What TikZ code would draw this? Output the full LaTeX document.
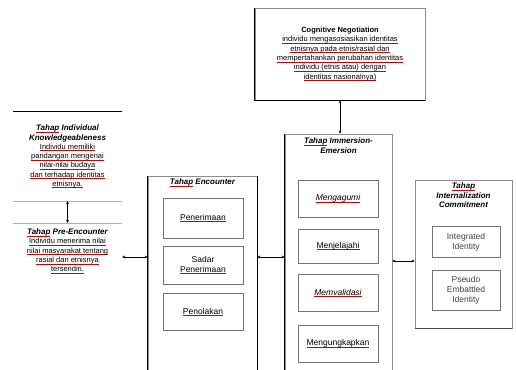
\documentclass[tikz,border=0pt]{standalone}
\usepackage{fontspec}
\setmainfont{Liberation Sans}
\usetikzlibrary{arrows.meta,positioning}
\newsavebox{\redbox}
\newcommand{\redline}[1]{\leavevmode\sbox{\redbox}{#1}\rlap{\color{red!80!black}\rule[-1.3pt]{\wd\redbox}{0.35pt}}\usebox{\redbox}}
\newcommand{\stagefont}{\bfseries\itshape\fontsize{8}{9.5}\selectfont}
\tikzset{
  stage/.style={draw=black!45, line width=0.6pt, inner sep=0pt},
  edge/.style={black, line width=1.1pt},
  sub/.style={draw=black!55, line width=0.6pt, minimum width=80pt, align=center, inner sep=1pt, font=\fontsize{8.5}{10}\selectfont},
  title/.style={align=center, inner sep=0pt, font=\stagefont},
  body/.style={align=center, font=\fontsize{7.5}{9.3}\selectfont},
  link/.style={{Stealth[length=3pt,width=3pt]}-{Stealth[length=3pt,width=3pt]}, line width=0.7pt}
}
\begin{document}
\begin{tikzpicture}[x=1pt,y=-1pt]
\useasboundingbox (0,0) rectangle (516,369);
\clip (0,0) rectangle (516,369);

\node (cogbox) [stage, body, minimum width=170pt, minimum height=92pt] at (340,54) {
  \textbf{Cognitive Negotiation}\\
  \redline{individu mengasosiasikan identitas}\\
  \redline{etnisnya pada etnis/rasial dan}\\
  \redline{mempertahankan perubahan identitas}\\
  \redline{individu (etnis atau) dengan}\\
  \redline{identitas nasionalnya)}
};
\draw [edge] (cogbox.north west) -- (cogbox.south west) -- (cogbox.south east);

\node (knowbox) [body, inner sep=0pt, minimum width=109pt, minimum height=89pt] at (67.5,156.5) {
  {\stagefont \redline{Tahap} Individual}\\
  {\stagefont Knowledgeableness}\\
  \redline{Individu memiliki}\\
  \redline{pandangan mengenai}\\
  \redline{nilai-nilai budaya}\\
  \redline{dan terhadap identitas}\\
  \redline{etnisnya.}
};
\draw [edge] (knowbox.north west) -- (knowbox.north east);
\draw [black!30, line width=0.5pt] (knowbox.south west) -- (knowbox.south east);

\node (prebox) [body, inner sep=0pt, minimum width=109pt, minimum height=56pt] at (67.5,251) {
  {\stagefont \redline{Tahap} Pre-Encounter}\\
  \redline{Individu menerima nilai}\\
  \redline{nilai masyarakat tentang}\\
  \redline{rasial dan etnisnya}\\
  \redline{tersendiri.}
};
\draw [black!30, line width=0.5pt] (prebox.north west) -- (prebox.north east);

\node (encbox) [stage, minimum width=109pt, minimum height=204pt] at (202.5,278) {};
\draw [edge] (encbox.north west) -- (encbox.south west);
\draw [edge] (encbox.north east) -- (encbox.south east);
\node (enctitle) [title, below=3pt of encbox.north] {\redline{Tahap} Encounter};
\node (enc1) [sub, minimum height=40pt] at (203,218) {\redline{Penerimaan}};
\node (enc2) [sub, minimum height=38pt] at (203,265) {Sadar\\\redline{Penerimaan}};
\node (enc3) [sub, minimum height=37pt] at (203,312) {\redline{Penolakan}};

\node (immbox) [stage, minimum width=107pt, minimum height=250pt] at (338.5,259) {};
\draw [edge] (immbox.north west) -- (immbox.south west);
\node (immtitle) [title, below=4pt of immbox.north] {\redline{Tahap} Immersion-\\Emersion};
\node (imm1) [sub, font=\fontsize{8.5}{10}\selectfont\itshape, minimum height=37pt] at (338,198.5) {\redline{Mengagumi}};
\node (imm2) [sub, minimum height=34pt] at (338,246) {\redline{Menjelajahi}};
\node (imm3) [sub, font=\fontsize{8.5}{10}\selectfont\itshape, minimum height=37pt] at (338,293) {\redline{Memvalidasi}};
\node (imm4) [sub, minimum height=37pt] at (338,343.5) {\redline{Mengungkapkan}};

\node (commbox) [stage, minimum width=97pt, minimum height=148pt] at (463.5,254) {};
\draw [black!70, line width=0.8pt] (commbox.south west) -- (commbox.south east);
\node (commtitle) [title, below=3pt of commbox.north] {\redline{Tahap}\\Internalization\\Commitment};
\node (comm1) [sub, minimum width=68pt, minimum height=31pt, text=black!75] at (466,242) {Integrated\\Identity};
\node (comm2) [sub, minimum width=68pt, minimum height=40pt, text=black!75] at (466,290) {Pseudo\\Embattled\\Identity};

\draw [link] (cogbox.south) -- (cogbox.south |- immbox.north);
\draw [link] (knowbox.south) -- (prebox.north);
\draw [link] ([yshift=-6pt]prebox.east) -- ([yshift=-6pt]prebox.east -| encbox.west);
\draw [link] ([yshift=-6pt]prebox.east -| encbox.east) -- ([yshift=-6pt]prebox.east -| immbox.west);
\draw [link] ([yshift=-7pt]commbox.west -| immbox.east) -- ([yshift=-7pt]commbox.west);
\end{tikzpicture}
\end{document}
